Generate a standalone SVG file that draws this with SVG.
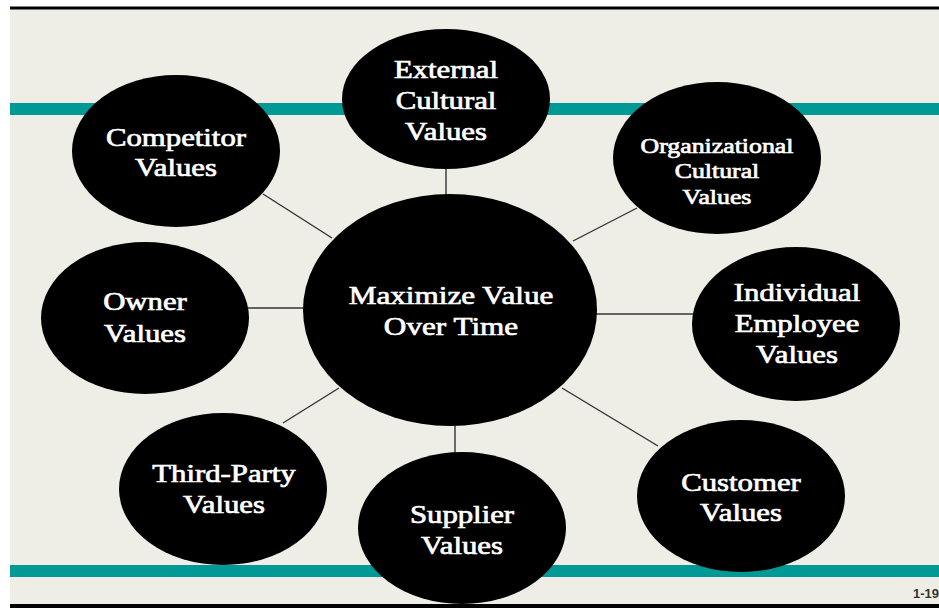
<svg xmlns="http://www.w3.org/2000/svg" width="939" height="608" viewBox="0 0 939 608">
<style>
.node{fill:#000}
.lbl{fill:#fff;stroke:#fff;stroke-width:0.7;font-family:"Liberation Serif","Times New Roman",serif;font-size:25px;text-anchor:middle}
.conn line{stroke:#333;stroke-width:1.4}
.band{fill:#009996}
</style>
<rect x="0" y="0" width="939" height="608" fill="#fff"/>
<rect x="10" y="9" width="929" height="595" fill="#EEEDE6"/>
<rect x="10" y="6.5" width="929" height="3" fill="#000"/>
<rect class="band" x="10" y="103" width="929" height="12"/>
<rect class="band" x="10" y="565" width="929" height="12"/>
<g id="connectors" class="conn">
<line x1="263" y1="194" x2="332" y2="238"/>
<line x1="446" y1="166" x2="446" y2="197"/>
<line x1="573" y1="241" x2="637" y2="208"/>
<line x1="246" y1="308" x2="305" y2="308"/>
<line x1="595" y1="314" x2="695" y2="314"/>
<line x1="339" y1="388" x2="283" y2="423"/>
<line x1="455" y1="423" x2="455" y2="455"/>
<line x1="562" y1="388" x2="658" y2="446"/>
</g>
<g id="competitor"><ellipse class="node" cx="176" cy="151" rx="104" ry="76"/>
<text class="lbl" transform="translate(176 0) scale(1.23 1)" y="146">Competitor</text>
<text class="lbl" transform="translate(176 0) scale(1.23 1)" y="176">Values</text></g>
<g id="external"><ellipse class="node" cx="446" cy="99" rx="104" ry="70"/>
<text class="lbl" transform="translate(446 0) scale(1.23 1)" y="78">External</text>
<text class="lbl" transform="translate(446 0) scale(1.23 1)" y="109">Cultural</text>
<text class="lbl" transform="translate(446 0) scale(1.23 1)" y="140">Values</text></g>
<g id="organizational"><ellipse class="node" cx="717" cy="158" rx="104" ry="76"/>
<text class="lbl" style="font-size:21px" transform="translate(717 0) scale(1.23 1)" y="153">Organizational</text>
<text class="lbl" style="font-size:21px" transform="translate(717 0) scale(1.23 1)" y="178">Cultural</text>
<text class="lbl" style="font-size:21px" transform="translate(717 0) scale(1.23 1)" y="204">Values</text></g>
<g id="owner"><ellipse class="node" cx="145" cy="318" rx="104" ry="76"/>
<text class="lbl" transform="translate(145 0) scale(1.23 1)" y="310">Owner</text>
<text class="lbl" transform="translate(145 0) scale(1.23 1)" y="342">Values</text></g>
<g id="main"><ellipse class="node" cx="450" cy="310" rx="147" ry="116"/>
<text class="lbl" style="font-size:26px" transform="translate(451 0) scale(1.2 1)" y="304">Maximize Value</text>
<text class="lbl" style="font-size:26px" transform="translate(451 0) scale(1.2 1)" y="335">Over Time</text></g>
<g id="individual"><ellipse class="node" cx="796" cy="324" rx="104" ry="77"/>
<text class="lbl" transform="translate(797 0) scale(1.23 1)" y="301">Individual</text>
<text class="lbl" transform="translate(797 0) scale(1.23 1)" y="332">Employee</text>
<text class="lbl" transform="translate(797 0) scale(1.23 1)" y="363">Values</text></g>
<g id="thirdparty"><ellipse class="node" cx="223" cy="489" rx="104" ry="76"/>
<text class="lbl" transform="translate(224 0) scale(1.23 1)" y="482">Third-Party</text>
<text class="lbl" transform="translate(224 0) scale(1.23 1)" y="513">Values</text></g>
<g id="supplier"><ellipse class="node" cx="462" cy="528" rx="104" ry="76"/>
<text class="lbl" transform="translate(462 0) scale(1.23 1)" y="523">Supplier</text>
<text class="lbl" transform="translate(462 0) scale(1.23 1)" y="554">Values</text></g>
<g id="customer"><ellipse class="node" cx="741" cy="496" rx="104" ry="76"/>
<text class="lbl" transform="translate(741 0) scale(1.23 1)" y="491">Customer</text>
<text class="lbl" transform="translate(741 0) scale(1.23 1)" y="521">Values</text></g>
<rect x="10" y="604" width="929" height="4" fill="#000"/>
<text x="913" y="598" style="font-family:'Liberation Sans',Arial,sans-serif;font-weight:bold;font-size:13px;fill:#333">1-19</text>
</svg>
